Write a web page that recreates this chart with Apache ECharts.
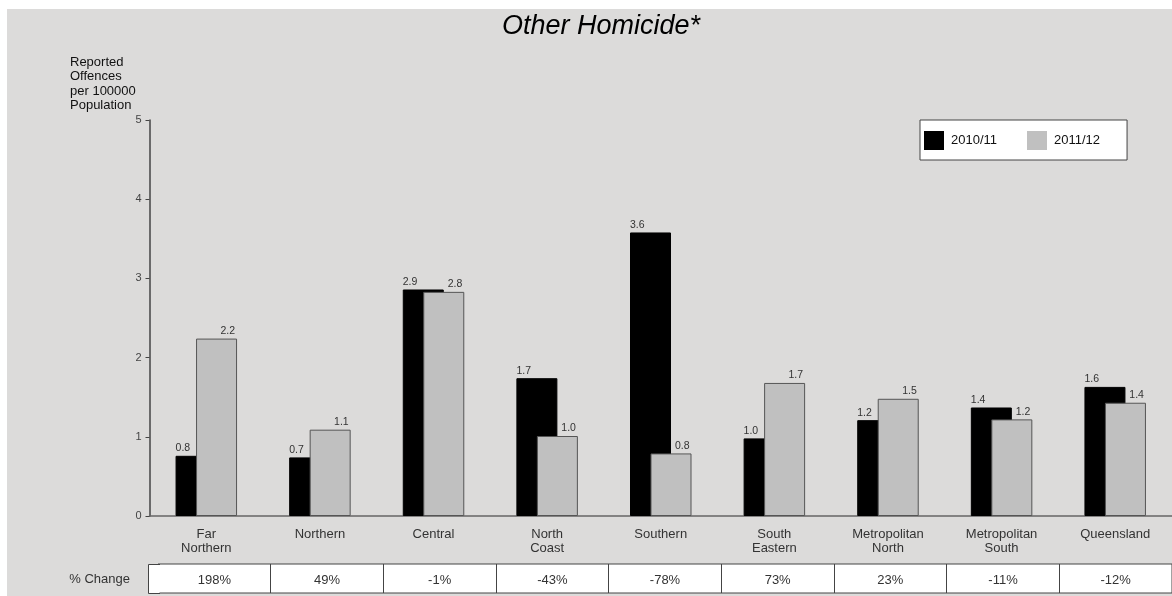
<!DOCTYPE html>
<html>
<head>
<meta charset="utf-8">
<script src="https://cdn.jsdelivr.net/npm/echarts@6/dist/echarts.min.js"></script>
<style>
  html, body { margin: 0; padding: 0; background: #fff; }
  #bg { position: absolute; left: 7px; top: 9px; right: 0; bottom: 0; background: #dcdbda; }
  #main { position: absolute; left: 0; top: 0; width: 1172px; height: 596px; }
</style>
</head>
<body>
<div id="bg"></div>
<div id="main"></div>
<script>
// regions along the x axis
var regions = ['Far\nNorthern', 'Northern', 'Central', 'North\nCoast', 'Southern',
  'South\nEastern', 'Metropolitan\nNorth', 'Metropolitan\nSouth', 'Queensland'];
// offences per 100000 population
var rate1011 = [0.76, 0.74, 2.86, 1.74, 3.58, 0.98, 1.21, 1.37, 1.63];
var rate1112 = [2.24, 1.09, 2.83, 1.01, 0.79, 1.68, 1.48, 1.22, 1.43];
// % change row under the chart
var pctChange = ['198%', '49%', '-1%', '-43%', '-78%', '73%', '23%', '-11%', '-12%'];
var yTicks = [0, 1, 2, 3, 4, 5];

var chart = echarts.init(document.getElementById('main'));
var txt = '#333';
var font = 'Liberation Sans, Arial, sans-serif';

chart.setOption({
  backgroundColor: 'transparent',
  textStyle: { fontFamily: font },
  title: {
    text: 'Other Homicide*',
    left: 596, top: 8, textAlign: 'center',
    textStyle: { fontSize: 27, fontStyle: 'italic', fontWeight: 'normal', color: '#000', fontFamily: font }
  },
  legend: {
    left: 920, top: 120,
    padding: [11, 27, 10, 4],
    itemWidth: 20, itemHeight: 19, itemGap: 30,
    backgroundColor: '#fff', borderColor: '#444', borderWidth: 1,
    icon: 'rect',
    itemStyle: { borderWidth: 0 },
    textStyle: { fontSize: 13, color: '#111', padding: [0, 0, 0, 2] },
    data: ['2010/11', '2011/12']
  },
  grid: [
    { left: 149.5, top: 120, width: 1026.5, height: 396 },
    { left: 158, top: 564, width: 1026, height: 29, show: true,
      backgroundColor: '#fff', borderColor: '#444', borderWidth: 1 }
  ],
  xAxis: [
    {
      type: 'category', data: regions, gridIndex: 0,
      axisLine: { lineStyle: { color: '#666', width: 1.5 } },
      axisTick: { show: false },
      axisLabel: { fontSize: 13, color: txt, lineHeight: 14, margin: 11, interval: 0 }
    },
    {
      type: 'category', data: pctChange, gridIndex: 1,
      axisLine: { show: false }, axisTick: { show: false },
      axisLabel: { inside: true, margin: 6, fontSize: 13, color: txt, interval: 0 },
      splitLine: { show: true, interval: 0, lineStyle: { color: '#444', width: 1 } }
    }
  ],
  yAxis: [
    {
      type: 'value', min: yTicks[0], max: yTicks[yTicks.length - 1], interval: 1, gridIndex: 0,
      axisLine: { show: true, lineStyle: { color: '#444', width: 1.5 } },
      axisTick: { show: true, length: 4, lineStyle: { color: '#444' } },
      axisLabel: { fontSize: 11, color: '#444', margin: 8 },
      splitLine: { show: false }
    },
    { type: 'value', gridIndex: 1, min: 0, max: 1, show: false }
  ],
  graphic: [
    {
      type: 'text', left: 70, top: 55,
      style: { text: 'Reported\nOffences\nper 100000\nPopulation', fontSize: 13, lineHeight: 14.5,
        fill: '#111', fontFamily: font }
    },
    {
      type: 'text', right: 1172 - 130, top: 573,
      style: { text: '% Change', fontSize: 13, fill: txt, fontFamily: font, textAlign: 'right' }
    },
    {
      // first cell of the table reaches back to the y axis
      type: 'rect', shape: { x: 148.5, y: 565, width: 11, height: 28 },
      style: { fill: '#fff' }, z: 10
    },
    {
      type: 'polyline', shape: { points: [[160, 564.5], [148.5, 564.5], [148.5, 593.5], [160, 593.5]] },
      style: { fill: null, stroke: '#444', lineWidth: 1 }, z: 11
    }
  ],
  series: [
    {
      name: '2010/11', type: 'bar', data: rate1011,
      barWidth: 41, barGap: '-50%',
      itemStyle: { color: '#000', borderColor: '#000', borderWidth: 1 },
      label: {
        show: true, position: [0, -2], align: 'left', verticalAlign: 'bottom',
        fontSize: 10.5, color: txt,
        formatter: function (p) { return p.value.toFixed(1); }
      }
    },
    {
      name: '2011/12', type: 'bar', data: rate1112,
      barWidth: 41,
      itemStyle: { color: '#c0c0c0', borderColor: '#555', borderWidth: 1 },
      label: {
        show: true, position: ['100%', -2], align: 'right', verticalAlign: 'bottom',
        offset: [-2, 0], fontSize: 10.5, color: txt,
        formatter: function (p) { return p.value.toFixed(1); }
      }
    }
  ]
});
</script>
</body>
</html>
